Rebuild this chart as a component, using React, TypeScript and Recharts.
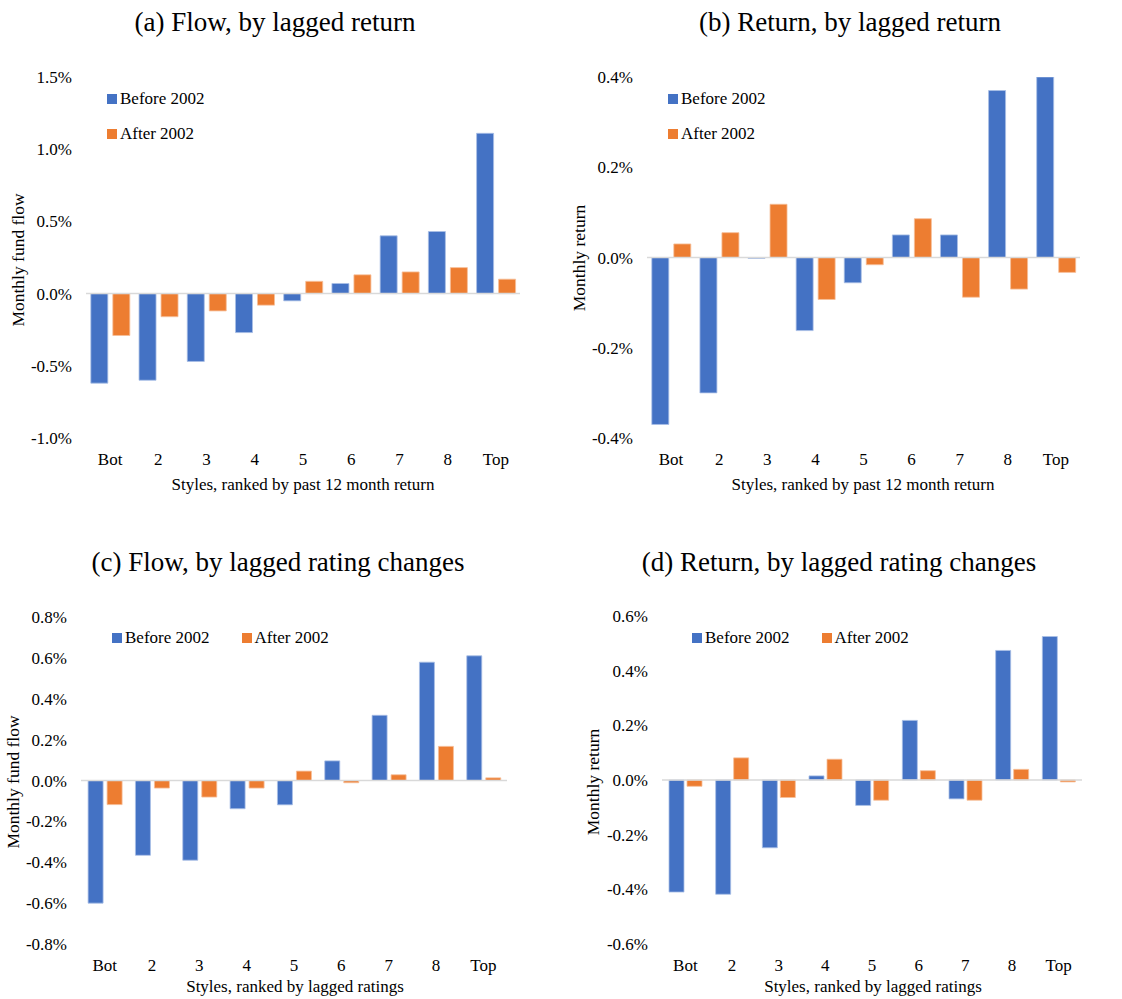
import React from "react";
import { Bar, BarChart, Legend, ReferenceLine, XAxis, YAxis } from "recharts";

const categories = ["Bot", "2", "3", "4", "5", "6", "7", "8", "Top"];

// values in percent
const flowByReturnBefore = [-0.62, -0.6, -0.47, -0.27, -0.05, 0.07, 0.4, 0.43, 1.11];
const flowByReturnAfter = [-0.29, -0.16, -0.12, -0.08, 0.085, 0.13, 0.15, 0.18, 0.1];

const retByReturnBefore = [-0.37, -0.3, -0.002, -0.162, -0.056, 0.05, 0.05, 0.37, 0.4];
const retByReturnAfter = [0.03, 0.055, 0.118, -0.093, -0.016, 0.086, -0.088, -0.07, -0.033];

const flowByRatingBefore = [-0.6, -0.366, -0.39, -0.138, -0.119, 0.096, 0.319, 0.579, 0.61];
const flowByRatingAfter = [-0.118, -0.037, -0.081, -0.037, 0.046, -0.011, 0.028, 0.167, 0.013];

const retByRatingBefore = [-0.41, -0.418, -0.248, 0.015, -0.093, 0.218, -0.069, 0.474, 0.525];
const retByRatingAfter = [-0.023, 0.081, -0.064, 0.076, -0.074, 0.034, -0.074, 0.039, -0.007];

const BLUE = "#4472C4";
const ORANGE = "#ED7D31";
const SERIF = "'Liberation Serif', 'Times New Roman', serif";

const toRows = (before: number[], after: number[]) =>
  categories.map((c, i) => ({ cat: c, before: before[i], after: after[i] }));

interface PanelProps {
  title: string;
  titleX: number;
  titleY: number;
  yTitle: string;
  yTitleX: number;
  yTitleY: number;
  xTitle: string;
  xTitleX: number;
  xTitleY: number;
  left: number;
  top: number;
  width: number;
  height: number;
  plot: { x0: number; x1: number; y0: number; y1: number };
  rows: { cat: string; before: number; after: number }[];
  domain: [number, number];
  ticks: number[];
  catGap: string;
  barGap: number;
  legend: "vertical" | "horizontal";
  legendX: number;
  legendY: number;
}

const YW = 60;
const XH = 30;

function LegendBox({ layout }: { layout: "vertical" | "horizontal" }) {
  const items = [
    { name: "Before 2002", color: BLUE },
    { name: "After 2002", color: ORANGE },
  ];
  return (
    <div
      style={{
        display: "flex",
        flexDirection: layout === "vertical" ? "column" : "row",
        gap: layout === "vertical" ? 14 : 32,
        fontFamily: SERIF,
        fontSize: 17,
        color: "#000",
      }}
    >
      {items.map((it) => (
        <div key={it.name} style={{ display: "flex", alignItems: "center", lineHeight: "21px" }}>
          <span style={{ width: 10, height: 10, background: it.color, marginRight: 3 }} />
          <span>{it.name}</span>
        </div>
      ))}
    </div>
  );
}

function Panel(p: PanelProps) {
  const margin = {
    top: p.plot.y0 - p.top,
    left: p.plot.x0 - p.left - YW,
    right: p.left + p.width - p.plot.x1,
    bottom: p.top + p.height - p.plot.y1 - XH,
  };
  const tickStyle = { fontFamily: SERIF, fontSize: 17, fill: "#000" };
  return (
    <>
      <div style={{ position: "absolute", left: p.left, top: p.top }}>
        <BarChart
          width={p.width}
          height={p.height}
          data={p.rows}
          margin={margin}
          barCategoryGap={p.catGap}
          barGap={p.barGap}
        >
          <XAxis
            dataKey="cat"
            height={XH}
            axisLine={false}
            tickLine={false}
            tickSize={0}
            tickMargin={15}
            tick={tickStyle}
            interval={0}
          />
          <YAxis
            width={YW}
            domain={p.domain}
            ticks={p.ticks}
            allowDataOverflow
            axisLine={false}
            tickLine={false}
            tickSize={0}
            tickMargin={14}
            tick={tickStyle}
            tickFormatter={(v: number) => `${v.toFixed(1)}%`}
          />
          <ReferenceLine y={0} stroke="#d9d9d9" strokeWidth={1.5} />
          <Bar dataKey="before" name="Before 2002" fill={BLUE} stroke="#a9bfe6" strokeWidth={0.8} isAnimationActive={false} />
          <Bar dataKey="after" name="After 2002" fill={ORANGE} stroke="#f6bf99" strokeWidth={0.8} isAnimationActive={false} />
          <Legend
            layout="vertical"
            align="center"
            verticalAlign="middle"
            content={() => <LegendBox layout={p.legend} />}
            wrapperStyle={{ left: p.legendX - p.left, top: p.legendY - p.top, width: "auto" }}
          />
        </BarChart>
      </div>
      <div
        style={{
          position: "absolute",
          left: p.titleX,
          top: p.titleY,
          transform: "translate(-50%, -50%)",
          fontFamily: SERIF,
          fontSize: 27,
          whiteSpace: "nowrap",
        }}
      >
        {p.title}
      </div>
      <div
        style={{
          position: "absolute",
          left: p.yTitleX,
          top: p.yTitleY,
          transform: "translate(-50%, -50%) rotate(-90deg)",
          fontFamily: SERIF,
          fontSize: 17.5,
          whiteSpace: "nowrap",
        }}
      >
        {p.yTitle}
      </div>
      <div
        style={{
          position: "absolute",
          left: p.xTitleX,
          top: p.xTitleY,
          transform: "translate(-50%, -50%)",
          fontFamily: SERIF,
          fontSize: 17,
          whiteSpace: "nowrap",
        }}
      >
        {p.xTitle}
      </div>
    </>
  );
}

export default function App() {
  return (
    <div style={{ position: "absolute", left: 0, top: 0, width: 1122, height: 999, background: "#fff", overflow: "hidden" }}>
      <Panel
        title="(a) Flow, by lagged return"
        titleX={275}
        titleY={22}
        yTitle="Monthly fund flow"
        yTitleX={18}
        yTitleY={260}
        xTitle="Styles, ranked by past 12 month return"
        xTitleX={303}
        xTitleY={485}
        left={0}
        top={40}
        width={560}
        height={470}
        plot={{ x0: 86, x1: 520, y0: 77, y1: 438 }}
        rows={toRows(flowByReturnBefore, flowByReturnAfter)}
        domain={[-1, 1.5]}
        ticks={[-1, -0.5, 0, 0.5, 1, 1.5]}
        catGap="10%"
        barGap={5}
        legend="vertical"
        legendX={107}
        legendY={88}
      />
      <Panel
        title="(b) Return, by lagged return"
        titleX={850}
        titleY={22}
        yTitle="Monthly return"
        yTitleX={579}
        yTitleY={258}
        xTitle="Styles, ranked by past 12 month return"
        xTitleX={863}
        xTitleY={485}
        left={560}
        top={40}
        width={562}
        height={470}
        plot={{ x0: 647, x1: 1080, y0: 77, y1: 438 }}
        rows={toRows(retByReturnBefore, retByReturnAfter)}
        domain={[-0.4, 0.4]}
        ticks={[-0.4, -0.2, 0, 0.2, 0.4]}
        catGap="10%"
        barGap={5}
        legend="vertical"
        legendX={668}
        legendY={88}
      />
      <Panel
        title="(c) Flow, by lagged rating changes"
        titleX={278}
        titleY={562}
        yTitle="Monthly fund flow"
        yTitleX={13}
        yTitleY={782}
        xTitle="Styles, ranked by lagged ratings"
        xTitleX={295}
        xTitleY={987}
        left={0}
        top={590}
        width={560}
        height={400}
        plot={{ x0: 81, x1: 507, y0: 617, y1: 944 }}
        rows={toRows(flowByRatingBefore, flowByRatingAfter)}
        domain={[-0.8, 0.8]}
        ticks={[-0.8, -0.6, -0.4, -0.2, 0, 0.2, 0.4, 0.6, 0.8]}
        catGap="15%"
        barGap={4}
        legend="horizontal"
        legendX={112}
        legendY={627}
      />
      <Panel
        title="(d) Return, by lagged rating changes"
        titleX={839}
        titleY={562}
        yTitle="Monthly return"
        yTitleX={593}
        yTitleY={782}
        xTitle="Styles, ranked by lagged ratings"
        xTitleX={873}
        xTitleY={987}
        left={560}
        top={590}
        width={562}
        height={400}
        plot={{ x0: 662, x1: 1082, y0: 616, y1: 944 }}
        rows={toRows(retByRatingBefore, retByRatingAfter)}
        domain={[-0.6, 0.6]}
        ticks={[-0.6, -0.4, -0.2, 0, 0.2, 0.4, 0.6]}
        catGap="15%"
        barGap={3}
        legend="horizontal"
        legendX={692}
        legendY={627}
      />
    </div>
  );
}
